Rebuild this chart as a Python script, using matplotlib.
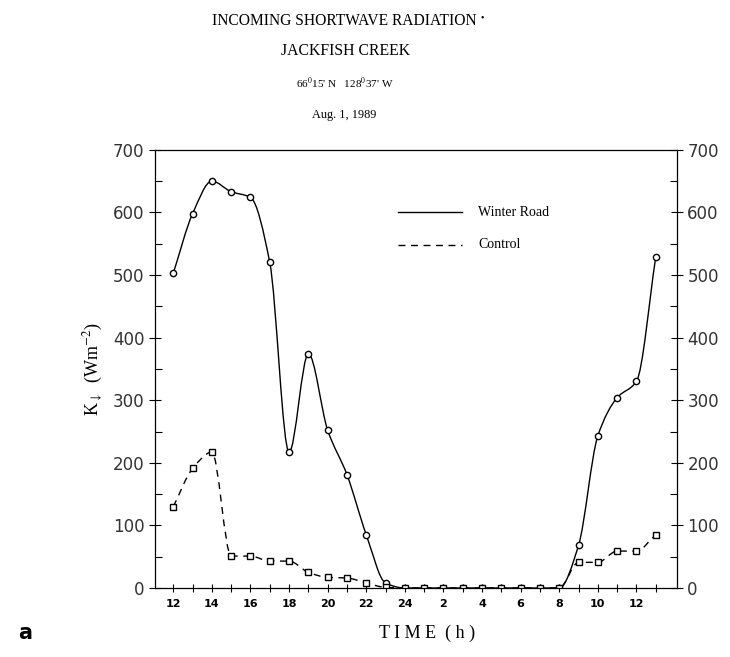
import numpy as np
import matplotlib
matplotlib.use("Agg")
import matplotlib.pyplot as plt
from matplotlib.path import Path
from matplotlib.patches import PathPatch

plt.rcParams['font.family'] = ['Liberation Serif', 'DejaVu Serif']
plt.rcParams['mathtext.fontset'] = 'stix'

# hours since midnight Aug 1 (24 = midnight, 26 = 2 am next day ...)
hours = [12, 13, 14, 15, 16, 17, 18, 19, 20, 21, 22, 23, 24, 25, 26, 27, 28,
         29, 30, 31, 32, 33, 34, 35, 36, 37]
winter_road = [503, 598, 650, 633, 624, 520, 217, 374, 252, 181, 85, 8, 0, 0, 0,
               0, 0, 0, 0, 0, 0, 68, 243, 304, 330, 528]
control = [130, 191, 217, 51, 51, 43, 43, 25, 17, 16, 8, 1, 0, 0, 0, 0, 0, 0,
           0, 0, 0, 41, 41, 59, 59, 85]
tick_hours = [12, 14, 16, 18, 20, 22, 24, 26, 28, 30, 32, 34, 36]
tick_labels = ['12', '14', '16', '18', '20', '22', '24', '2', '4', '6', '8', '10', '12']


def smooth_path(x, y):
    # monotone cubic (Fritsch-Carlson) as bezier segments, drawn in data coords
    x = np.asarray(x, float)
    y = np.asarray(y, float)
    h = np.diff(x)
    d = np.diff(y) / h
    m = np.zeros_like(y)
    m[0], m[-1] = d[0], d[-1]
    for i in range(1, len(x) - 1):
        if d[i - 1] * d[i] > 0:
            w1 = 2 * h[i] + h[i - 1]
            w2 = h[i] + 2 * h[i - 1]
            m[i] = (w1 + w2) / (w1 / d[i - 1] + w2 / d[i])
    verts = [(x[0], y[0])]
    codes = [Path.MOVETO]
    for i in range(len(x) - 1):
        verts += [(x[i] + h[i] / 3, y[i] + m[i] * h[i] / 3),
                  (x[i + 1] - h[i] / 3, y[i + 1] - m[i + 1] * h[i] / 3),
                  (x[i + 1], y[i + 1])]
        codes += [Path.CURVE4] * 3
    return Path(verts, codes)


fig = plt.figure(figsize=(7.3, 6.57), dpi=100)
ax = fig.add_axes([0.2123, 0.105, 0.715, 0.667])

ax.add_patch(PathPatch(smooth_path(hours, winter_road), fill=False, lw=1.0, color='black'))
ax.add_patch(PathPatch(smooth_path(hours, control), fill=False, lw=1.0, color='black',
                       linestyle=(0, (5, 4))))
ax.plot(hours, winter_road, 'o', ms=4.5, mfc='white', mec='black', mew=1.0, ls='none')
ax.plot(hours, control, 's', ms=4, mfc='white', mec='black', mew=1.0, ls='none')

ax.set_xlim(11.05, 38.1)
ax.set_ylim(0, 700)
ax.set_xticks(tick_hours)
ax.set_xticklabels(tick_labels, fontfamily='DejaVu Sans', fontweight='bold', fontsize=8)
ax.set_xticks(np.arange(13, 38, 2), minor=True)
ax.set_yticks(np.arange(0, 701, 100))
ax.set_yticks(np.arange(50, 700, 100), minor=True)
ax.tick_params(axis='x', which='both', direction='inout', length=6, width=0.8, pad=5)
ax.tick_params(axis='y', which='major', direction='inout', length=9, width=0.8,
               labelsize=12, pad=3, right=True, labelright=True)
ax.tick_params(axis='y', which='minor', direction='in', length=5, width=0.8, right=True)
for lab in ax.get_yticklabels():
    lab.set_fontfamily('DejaVu Sans')
    lab.set_color('#333333')
for s in ax.spines.values():
    s.set_linewidth(0.9)

ax.set_ylabel(r'K$_{\downarrow}$  (Wm$^{-2}$)', fontsize=13, labelpad=6)
fig.text(0.585, 0.036, 'T I M E  ( h )', ha='center', va='center', fontsize=13)
fig.text(0.035, 0.036, 'a', ha='center', va='center', fontsize=15,
         fontfamily='DejaVu Sans', fontweight='bold')

# legend drawn as lines in axes coords
ax.plot([0.466, 0.588], [0.858, 0.858], transform=ax.transAxes, color='black', lw=1.0)
ax.plot([0.466, 0.588], [0.783, 0.783], transform=ax.transAxes, color='black', lw=1.0,
        ls=(0, (5, 4)))
ax.text(0.619, 0.858, 'Winter Road', transform=ax.transAxes, va='center', fontsize=10)
ax.text(0.619, 0.783, 'Control', transform=ax.transAxes, va='center', fontsize=10)

fig.text(0.472, 0.968, 'INCOMING SHORTWAVE RADIATION', ha='center', va='center', fontsize=11.2)
fig.text(0.66, 0.972, '•', ha='center', va='center', fontsize=7)
fig.text(0.473, 0.923, 'JACKFISH CREEK', ha='center', va='center', fontsize=11.3)
fig.text(0.473, 0.873, "66$^0$15' N   128$^0$37' W", ha='center', va='center', fontsize=8)
fig.text(0.471, 0.825, 'Aug. 1, 1989', ha='center', va='center', fontsize=8.8)

fig.savefig('out.png', dpi=100)
